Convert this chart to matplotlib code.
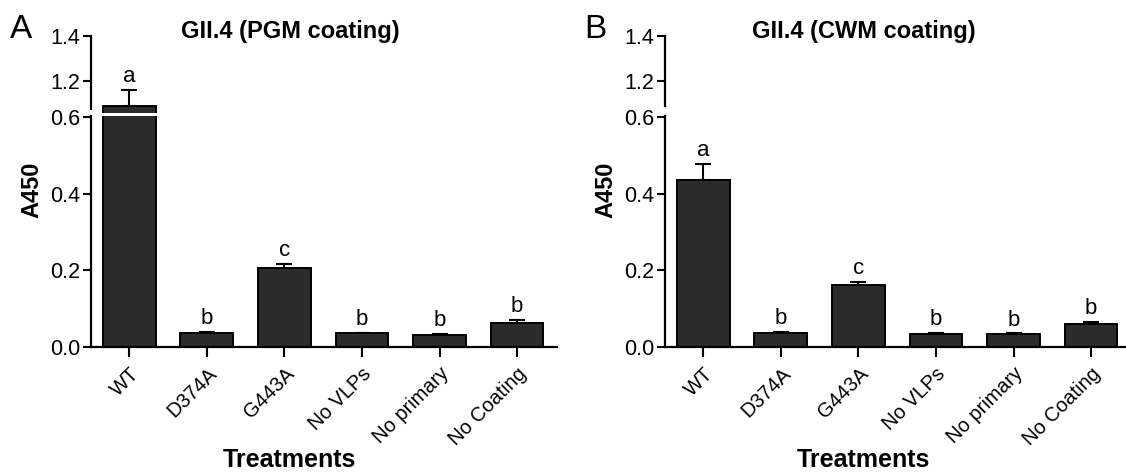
import numpy as np
import matplotlib
matplotlib.use("Agg")
import matplotlib.pyplot as plt

plt.rcParams['font.family'] = ['Liberation Sans', 'DejaVu Sans']

# data
treatments = ["WT", "D374A", "G443A", "No VLPs", "No primary", "No Coating"]
pgm_mean = [1.09, 0.037, 0.206, 0.036, 0.032, 0.062]
pgm_err = [0.072, 0.004, 0.011, 0.002, 0.002, 0.009]
cwm_mean = [0.436, 0.038, 0.163, 0.035, 0.034, 0.061]
cwm_err = [0.041, 0.003, 0.008, 0.003, 0.002, 0.005]
pgm_letters = ["a", "b", "c", "b", "b", "b"]
cwm_letters = ["a", "b", "c", "b", "b", "b"]

W, H = 1126, 474
fig = plt.figure(figsize=(W / 100, H / 100), dpi=100)


def px_rect(x0, ytop, x1, ybot):
    return [x0 / W, 1 - ybot / H, (x1 - x0) / W, (ybot - ytop) / H]


BAR = '#2b2b2b'
LOW_TOP = 0.602
UP_LIM = (1.058, 1.4)


def panel(x0, means, errs, letters, title, tag, up_spine_end):
    x1 = x0 + 466
    low = fig.add_axes(px_rect(x0, 116, x1, 347.3))
    up = fig.add_axes(px_rect(x0, 36, x1, 113))
    x = np.arange(len(treatments))
    for ax in (low, up):
        ax.bar(x, means, width=0.68, color=BAR, edgecolor='black', linewidth=1.4, zorder=2)
        ax.errorbar(x, means, yerr=[np.zeros(len(errs)), errs], fmt='none', ecolor='black',
                    elinewidth=1.5, capsize=6, capthick=1.5, zorder=1)
        ax.set_xlim(-0.494, 5.515)
        for s in ('top', 'right'):
            ax.spines[s].set_visible(False)
        ax.spines['left'].set_linewidth(1.6)
        ax.tick_params(axis='y', direction='out', length=6, width=1.5, labelsize=15.5, pad=2)
    low.set_ylim(0, LOW_TOP)
    low.set_yticks([0.0, 0.2, 0.4, 0.6])
    low.set_yticklabels(['0.0', '0.2', '0.4', '0.6'])
    low.spines['bottom'].set_linewidth(1.6)
    low.spines['left'].set_bounds(0, LOW_TOP)
    low.set_xticks(x)
    low.set_xticklabels(treatments, rotation=45, ha='right', rotation_mode='anchor', fontsize=14.5)
    low.tick_params(axis='x', direction='out', length=7, width=1.5, pad=5)

    up.set_ylim(*UP_LIM)
    up.set_yticks([1.2, 1.4])
    up.set_yticklabels(['1.2', '1.4'])
    up.spines['bottom'].set_visible(False)
    up.spines['left'].set_bounds(up_spine_end, 1.4)
    up.set_xticks([])
    up.patch.set_alpha(0)

    for i, (m, e, l) in enumerate(zip(means, errs, letters)):
        top = m + e
        ax = up if top > LOW_TOP else low
        ax.annotate(l, (i, top), xytext=(0, 2), textcoords='offset points',
                    ha='center', va='bottom', fontsize=16)

    fig.text((x0 + 199) / W, 1 - 38 / H, title, ha='center', va='baseline',
             fontsize=17, fontweight='bold')
    fig.text((x0 + 198) / W, 1 - 460 / H, 'Treatments', ha='center', va='center',
             fontsize=18, fontweight='bold')
    fig.text((x0 - 59) / W, 1 - 190 / H, 'A450', ha='center', va='center', rotation=90,
             fontsize=17, fontweight='bold')
    fig.text((x0 - 81) / W, 1 - 38 / H, tag, ha='left', va='baseline', fontsize=24)


panel(91, pgm_mean, pgm_err, pgm_letters, 'GII.4 (PGM coating)', 'A', 1.075)
panel(665, cwm_mean, cwm_err, cwm_letters, 'GII.4 (CWM coating)', 'B', 1.088)

fig.savefig('out.png', dpi=100)
